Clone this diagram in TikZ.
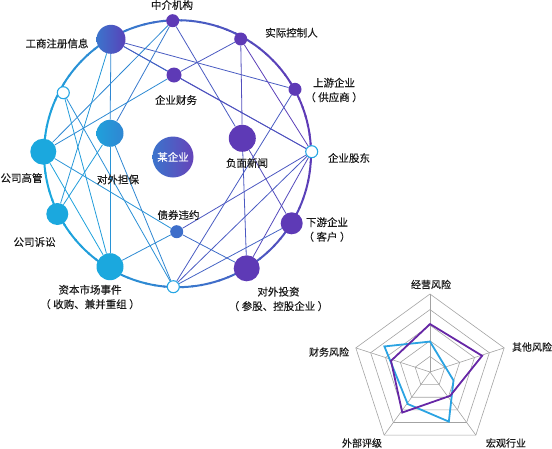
\documentclass[tikz,border=0pt]{standalone}
\usepackage{fontspec}
\setmainfont{Noto Sans CJK SC}
\newfontfamily\tagfont{Noto Sans CJK SC}[FakeBold=0.35]
\usepackage{xcolor}
\usepackage{tikz}
\usetikzlibrary{backgrounds}

\definecolor{mypurple}{HTML}{5E3AB6}
\definecolor{mycyan}{HTML}{1BA8DE}
\definecolor{midblue}{HTML}{3B74CC}
\definecolor{ringblue}{HTML}{26A6E4}
\definecolor{labelgray}{HTML}{1A1A1A}
\definecolor{gridgray}{HTML}{A3A3A3}
\definecolor{riskpurple}{HTML}{6626A6}
\definecolor{riskblue}{HTML}{2BA3E2}

\newcommand\lp{（\kern2.5pt}
\newcommand\rp{\kern2.5pt）}

\begin{document}
\begin{tikzpicture}[
    x=1pt, y=-1pt,
    dot/.style={circle, inner sep=0pt, draw=none},
    hollow/.style={circle, inner sep=0pt, minimum size=12pt, fill=white, draw=ringblue, line width=1.1pt},
    tag/.style={font=\tagfont\fontsize{10.5}{14.5}\selectfont, text=labelgray, inner sep=0pt, align=center},
    link/.style={line width=0.8pt},
    ring/.style={line width=2pt},
    grid/.style={draw=gridgray, line width=0.6pt},
    risk/.style={line width=1.8pt, line join=miter}
]
\useasboundingbox (0,0) rectangle (552,448);

% nodes on the ring
\node [dot, minimum size=13pt, fill=mypurple] (agency) at (172.7,20.7) {};
\node [dot, minimum size=13pt, fill=mypurple] (controller) at (240.7,39) {};
\node [dot, minimum size=13pt, fill=mypurple] (supplier) at (295,89.3) {};
\node [hollow] (holder) at (311.7,151.7) {};
\node [dot, minimum size=22pt, fill=mypurple] (client) at (291.7,223.3) {};
\node [dot, minimum size=26pt, fill=mypurple] (invest) at (246.7,268.3) {};
\node [hollow] (blankS) at (173.3,286.7) {};
\node [dot, minimum size=27pt, fill=mycyan] (market) at (110,266.7) {};
\node [dot, minimum size=22pt, fill=mycyan] (lawsuit) at (57.3,214) {};
\node [dot, minimum size=26pt, fill=mycyan] (exec) at (43.3,151.7) {};
\node [hollow] (blankW) at (63.3,92.7) {};
\node [dot, minimum size=29pt, left color=midblue, right color=mypurple!85!midblue] (registry) at (111,39.3) {};

% inner nodes
\node [dot, minimum size=15pt, fill=mypurple] (finance) at (174,75) {};
\node [dot, minimum size=27pt, left color=mycyan!85!midblue, right color=mycyan!35!midblue] (guarantee) at (110,133.3) {};
\node [dot, minimum size=41pt, left color=midblue, right color=mypurple!95!white] (firm) at (173,157) {\tagfont\fontsize{10.5}{12}\selectfont\color{white}某企业};
\node [dot, minimum size=27pt, fill=mypurple] (news) at (242.3,138.3) {};
\node [dot, minimum size=13pt, fill=midblue!90!mypurple] (bond) at (176.7,231.7) {};

\begin{pgfonlayer}{background}
% the ring
\foreach \a in {0,4,...,356} {
    \pgfmathsetmacro\mix{50+50*cos(\a-10)}
    \draw [ring, mypurple!\mix!mycyan] (177.5,153.7) ++(\a:133.5pt) arc [start angle=\a, delta angle=4.6, radius=133.5pt];
}
% connectors
\foreach \a/\b/\p in {registry/guarantee/30, registry/finance/46, registry/supplier/69, registry/holder/69,
    registry/lawsuit/15, agency/news/70, agency/exec/29, agency/guarantee/43, controller/finance/72,
    controller/news/82, controller/holder/95, finance/holder/80, exec/bond/19, exec/market/5,
    market/guarantee/19, market/bond/27, guarantee/blankS/30, supplier/blankS/69, holder/bond/73,
    holder/blankS/70, holder/invest/85, bond/invest/54, news/invest/72, client/blankS/62,
    news/client/83, blankW/market/11, blankW/blankS/23, finance/exec/27, lawsuit/guarantee/11}
    \draw [link, mypurple!\p!mycyan] (\a) -- (\b);
\end{pgfonlayer}

% labels
\node [tag] (tagAgency) at (172,5) {中介机构};
\node [tag] (tagController) at (291.5,32.7) {实际控制人};
\node [tag] (tagSupplier) at (334,90) {上游企业\\\lp 供应商\rp};
\node [tag] (tagHolder) at (349,158) {企业股东};
\node [tag] (tagClient) at (327,229.5) {下游企业\\\lp 客户\rp};
\node [tag] (tagInvest) at (278.5,299) {对外投资\\\lp 参股、控股企业\rp};
\node [tag] (tagMarket) at (90,297) {资本市场事件\\\lp 收购、兼并重组\rp};
\node [tag] (tagLawsuit) at (34.5,242) {公司诉讼};
\node [tag] (tagExec) at (21.5,178) {公司高管};
\node [tag] (tagRegistry) at (57,43.5) {工商注册信息};
\node [tag] (tagFinance) at (176,100) {企业财务};
\node [tag] (tagGuarantee) at (118,179.5) {对外担保};
\node [tag] (tagNews) at (247,163) {负面新闻};
\node [tag] (tagBond) at (178.5,215) {债券违约};

% radar
\begin{scope}[shift={(430,372)}, x=78pt, y=78pt]
    \foreach \r in {0.2,0.4,0.6,0.8,1.0}
        \draw [grid] (90:\r) -- (18:\r) -- (-54:\r) -- (-126:\r) -- (162:\r) -- cycle;
    \foreach \a in {90,18,-54,-126,162}
        \draw [grid] (0,0) -- (\a:1);
    \draw [risk, riskblue] (90:0.39) -- (-19.7:0.32) -- (-69.2:0.68) -- (-124.9:0.50) -- (150.7:0.67) -- cycle;
    \draw [risk, riskpurple] (90:0.615) -- (17.3:0.70) -- (-49.8:0.40) -- (-124.4:0.63) -- (164:0.52) -- cycle;
\end{scope}
\node [tag, font=\tagfont\fontsize{10}{12}\selectfont] (riskOp) at (431,284.5) {经营风险};
\node [tag, font=\tagfont\fontsize{10}{12}\selectfont] (riskOther) at (532,347) {其他风险};
\node [tag, font=\tagfont\fontsize{10}{12}\selectfont] (riskMacro) at (506,443) {宏观行业};
\node [tag, font=\tagfont\fontsize{10}{12}\selectfont] (riskRating) at (362,443) {外部评级};
\node [tag, font=\tagfont\fontsize{10}{12}\selectfont] (riskFin) at (329,352) {财务风险};

\end{tikzpicture}
\end{document}
